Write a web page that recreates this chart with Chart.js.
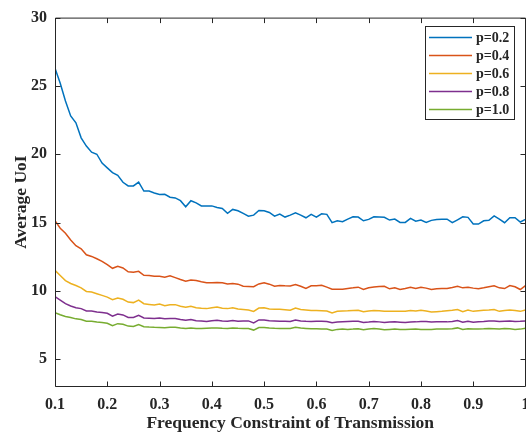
<!DOCTYPE html>
<html><head><meta charset="utf-8">
<script src="https://cdn.jsdelivr.net/npm/chart.js@4.4.0/dist/chart.umd.min.js"></script>
<style>
html,body{margin:0;padding:0;background:#fff;overflow:hidden;width:526px;height:435px}
#wrap{width:540px;height:435px;position:relative}
canvas{display:block}
</style></head>
<body><div id="wrap"><canvas id="c" width="540" height="435"></canvas></div>
<script>
const xValues = [0.10,0.11,0.12,0.13,0.14,0.15,0.16,0.17,0.18,0.19,
0.20,0.21,0.22,0.23,0.24,0.25,0.26,0.27,0.28,0.29,
0.30,0.31,0.32,0.33,0.34,0.35,0.36,0.37,0.38,0.39,
0.40,0.41,0.42,0.43,0.44,0.45,0.46,0.47,0.48,0.49,
0.50,0.51,0.52,0.53,0.54,0.55,0.56,0.57,0.58,0.59,
0.60,0.61,0.62,0.63,0.64,0.65,0.66,0.67,0.68,0.69,
0.70,0.71,0.72,0.73,0.74,0.75,0.76,0.77,0.78,0.79,
0.80,0.81,0.82,0.83,0.84,0.85,0.86,0.87,0.88,0.89,
0.90,0.91,0.92,0.93,0.94,0.95,0.96,0.97,0.98,0.99,1.00];

const seriesLabels = ['p=0.2','p=0.4','p=0.6','p=0.8','p=1.0'];
const seriesColors = ['#0072BD','#D95319','#EDB120','#7E2F8E','#77AC30'];

const p02 = [26.3,25.2,23.9,22.8,22.3,21.2,20.6,20.15,20.0,19.35,
19.0,18.65,18.45,17.95,17.68,17.68,17.96,17.3,17.3,17.16,
17.05,17.07,16.85,16.8,16.6,16.15,16.6,16.44,16.22,16.22,
16.22,16.1,16.03,15.67,15.96,15.86,15.67,15.47,15.54,15.88,
15.86,15.74,15.47,15.62,15.4,15.54,15.71,15.54,15.35,15.6,
15.4,15.64,15.6,14.99,15.13,15.06,15.25,15.42,15.4,15.13,
15.23,15.42,15.4,15.38,15.18,15.25,15.01,15.01,15.3,15.1,
15.18,15.01,15.16,15.23,15.25,15.25,14.99,15.2,15.42,15.38,
14.89,14.89,15.13,15.16,15.49,15.25,14.99,15.35,15.35,15.04,15.23];

const p04 = [15.13,14.58,14.22,13.73,13.3,13.08,12.64,12.52,12.35,12.16,
11.92,11.65,11.79,11.68,11.39,11.36,11.43,11.14,11.12,11.07,
11.07,11.0,11.1,10.97,10.83,10.7,10.8,10.75,10.66,10.6,
10.59,10.62,10.6,10.51,10.54,10.49,10.34,10.32,10.3,10.51,
10.59,10.49,10.34,10.39,10.37,10.36,10.46,10.34,10.17,10.37,
10.37,10.41,10.27,10.12,10.12,10.12,10.18,10.22,10.27,10.1,
10.22,10.28,10.32,10.34,10.15,10.22,10.1,10.17,10.27,10.17,
10.27,10.2,10.1,10.15,10.17,10.17,10.25,10.34,10.22,10.27,
10.2,10.15,10.22,10.3,10.37,10.22,10.17,10.39,10.3,10.1,10.39];

const p06 = [11.5,11.12,10.75,10.54,10.39,10.22,9.96,9.91,9.79,9.67,
9.54,9.35,9.47,9.38,9.18,9.14,9.33,9.06,9.01,8.96,
9.04,8.92,8.99,8.99,8.87,8.8,8.87,8.77,8.72,8.7,
8.76,8.82,8.72,8.7,8.77,8.67,8.64,8.6,8.5,8.74,
8.77,8.68,8.65,8.65,8.62,8.58,8.74,8.63,8.6,8.56,
8.56,8.55,8.53,8.38,8.5,8.52,8.54,8.57,8.58,8.47,
8.53,8.56,8.54,8.5,8.5,8.5,8.5,8.5,8.56,8.53,
8.58,8.52,8.46,8.48,8.5,8.54,8.58,8.63,8.48,8.6,
8.5,8.54,8.58,8.6,8.63,8.5,8.56,8.6,8.56,8.5,8.6];

const p08 = [9.57,9.33,9.06,8.89,8.77,8.7,8.53,8.53,8.45,8.41,
8.36,8.14,8.31,8.24,8.05,8.05,8.21,8.02,8.0,7.98,
8.02,7.96,7.98,7.98,7.9,7.85,7.9,7.82,7.8,7.76,
7.82,7.85,7.8,7.78,7.83,7.78,7.8,7.8,7.66,7.87,
7.87,7.82,7.8,7.78,7.78,7.76,7.87,7.8,7.77,7.76,
7.77,7.78,7.76,7.66,7.72,7.74,7.76,7.77,7.77,7.69,
7.72,7.76,7.73,7.69,7.72,7.73,7.71,7.69,7.72,7.73,
7.75,7.76,7.72,7.73,7.73,7.73,7.76,7.83,7.71,7.78,
7.71,7.74,7.76,7.79,7.8,7.76,7.78,7.8,7.76,7.77,7.8];

const p10 = [8.41,8.25,8.12,8.05,7.95,7.9,7.78,7.78,7.72,7.68,
7.63,7.45,7.6,7.55,7.42,7.39,7.54,7.38,7.35,7.33,
7.32,7.3,7.34,7.33,7.28,7.24,7.28,7.25,7.25,7.27,
7.28,7.29,7.26,7.25,7.29,7.26,7.25,7.25,7.13,7.32,
7.32,7.28,7.26,7.25,7.25,7.25,7.34,7.28,7.25,7.22,
7.22,7.21,7.2,7.1,7.18,7.2,7.18,7.2,7.23,7.15,
7.2,7.25,7.2,7.15,7.18,7.2,7.18,7.17,7.19,7.2,
7.18,7.17,7.18,7.2,7.2,7.2,7.23,7.29,7.17,7.22,
7.2,7.2,7.22,7.25,7.23,7.2,7.25,7.22,7.17,7.2,7.27];

const xTicks = [0.1,0.2,0.3,0.4,0.5,0.6,0.7,0.8,0.9,1];
const yTicks = [5,10,15,20,25,30];

const FONT = '"Liberation Serif", "Times New Roman", serif';
const AXC = '#262626';

const allSeries = [p02,p04,p06,p08,p10];
const datasets = allSeries.map((arr,i)=>({
  label: seriesLabels[i],
  data: arr.map((v,j)=>({x:xValues[j], y:v})),
  borderColor: seriesColors[i],
  backgroundColor: seriesColors[i],
  borderWidth: 1.5,
  pointRadius: 0,
  tension: 0,
  fill: false
}));

const framePlugin = {
  id:'frame',
  afterDatasetsDraw(chart){
    const {ctx, chartArea:a, scales:{x,y}} = chart;
    ctx.save();
    ctx.strokeStyle = AXC;
    ctx.lineWidth = 1;
    const L = a.left+0.5, R = a.right, T = a.top+0.5, B = a.bottom;
    ctx.beginPath();
    ctx.rect(L, T, R-L, B-T);
    ctx.stroke();
    const tl = 5;
    ctx.beginPath();
    xTicks.forEach(t=>{
      const px = Math.round(x.getPixelForValue(t))+0.5;
      ctx.moveTo(px,B); ctx.lineTo(px,B-tl);
      ctx.moveTo(px,T); ctx.lineTo(px,T+tl);
    });
    yTicks.forEach(t=>{
      const py = Math.round(y.getPixelForValue(t))+0.5;
      ctx.moveTo(L,py); ctx.lineTo(L+tl,py);
      ctx.moveTo(R,py); ctx.lineTo(R-tl,py);
    });
    ctx.stroke();

    // legend
    const lx=425.5, ly=26.5, lw=89, lh=93;
    ctx.fillStyle='#fff';
    ctx.fillRect(lx,ly,lw,lh);
    ctx.strokeStyle=AXC;
    ctx.strokeRect(lx,ly,lw,lh);
    ctx.font = 'bold 14px '+FONT;
    ctx.textBaseline='middle';
    ctx.textAlign='left';
    seriesLabels.forEach((lab,i)=>{
      const yy = 37.5 + i*18;
      ctx.strokeStyle = seriesColors[i];
      ctx.lineWidth = 1.5;
      ctx.beginPath(); ctx.moveTo(429,yy); ctx.lineTo(472,yy); ctx.stroke();
      ctx.fillStyle = AXC;
      ctx.fillText(lab, 476, yy+0.5);
    });
    ctx.restore();
  }
};

new Chart(document.getElementById('c'), {
  type:'line',
  data:{datasets},
  options:{
    responsive:false,
    animation:false,
    devicePixelRatio:1,
    layout:{padding:{left:0,right:14.5,top:16,bottom:0}},
    plugins:{legend:{display:false}, tooltip:{enabled:false}},
    scales:{
      x:{
        type:'linear', min:0.1, max:1,
        afterBuildTicks:s=>{ s.ticks = xTicks.map(v=>({value:v})); },
        afterFit:s=>{ s.height = 48.5; },
        grid:{display:false, drawTicks:false},
        border:{display:false},
        ticks:{font:{family:FONT,size:16,weight:'bold'}, color:AXC, padding:9, maxRotation:0, autoSkip:false,
          callback:v=>String(Math.round(v*10)/10)},
        title:{display:true, text:'Frequency Constraint of Transmission', color:AXC,
          font:{family:FONT,size:17.5,weight:'bold'}, padding:{top:0,bottom:1}}
      },
      y:{
        type:'linear', min:3, max:30,
        afterBuildTicks:s=>{ s.ticks = yTicks.map(v=>({value:v})); },
        afterFit:s=>{ s.width = 55; },
        grid:{display:false, drawTicks:false},
        border:{display:false},
        ticks:{font:{family:FONT,size:16,weight:'bold'}, color:AXC, padding:8, autoSkip:false},
        title:{display:true, text:'Average UoI', color:AXC,
          font:{family:FONT,size:17.5,weight:'bold'}, padding:{top:11,bottom:0}}
      }
    }
  },
  plugins:[framePlugin]
});
</script>
</body></html>
